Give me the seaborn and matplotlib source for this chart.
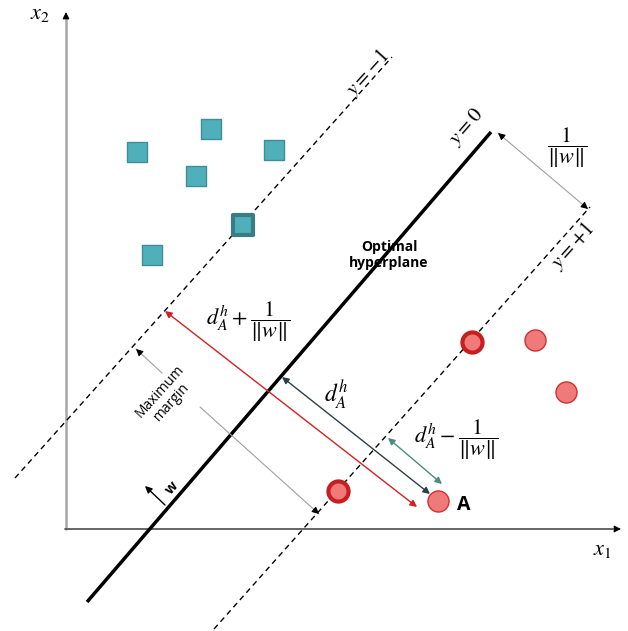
import numpy as np
import seaborn as sns
import pandas as pd
import matplotlib
matplotlib.use('Agg')
import matplotlib.pyplot as plt

# Class -1 (squares), pixel-space coordinates of the sketch
sq_x = [137, 211, 274, 196, 243, 152]
sq_y = [152, 129, 150, 176, 225, 255]
sq_support = [False, False, False, False, True, False]

# Class +1 (circles)
ci_x = [472, 535, 566, 338, 438]
ci_y = [342, 340, 392, 491, 501]
ci_support = [True, False, False, True, False]

# Decision lines (x0, y0, x1, y1)
hyperplane = [87, 602, 491, 132]
margin_neg = [15, 478, 392, 57]
margin_pos = [214, 629, 590, 207]

# Axes origin and ends
origin = (66, 529)
x_end = 621
y_end = 10

sns.set_style("white")
plt.rcParams['mathtext.fontset'] = 'stix'
plt.rcParams['font.family'] = ['Open Sans', 'DejaVu Sans']
plt.rcParams['text.color'] = 'black'

fig = plt.figure(figsize=(6.28, 6.31), dpi=100)
ax = fig.add_axes([0, 0, 1, 1])
ax.set_xlim(0, 628)
ax.set_ylim(631, 0)
ax.axis('off')


def head(p0, p1, color='black'):
    # black arrow head at p1, coming from direction of p0
    v = np.array(p1, float) - np.array(p0, float)
    v = v / np.hypot(*v)
    start = np.array(p1, float) - 6 * v
    ax.annotate('', xy=p1, xytext=tuple(start),
                arrowprops=dict(arrowstyle='-|>', color=color, lw=0.8,
                                mutation_scale=10, shrinkA=0, shrinkB=0))


def arrow(p0, p1, color, both=True, lw=1):
    ax.annotate('', xy=p1, xytext=p0,
                arrowprops=dict(arrowstyle='<|-|>' if both else '-|>', color=color, lw=lw,
                                mutation_scale=10, shrinkA=0, shrinkB=0))


def gray_arrow(p0, p1, both=True):
    ax.plot([p0[0], p1[0]], [p0[1], p1[1]], color='#a0a0a0', lw=0.8)
    head(p0, p1)
    if both:
        head(p1, p0)


# Axes arrows
ax.plot([origin[0], origin[0]], [origin[1], y_end + 8], color='#a6a6a6', lw=1.8)
head((origin[0], origin[1]), (origin[0], y_end + 2))
ax.plot([origin[0] - 1, x_end - 8], [origin[1], origin[1]], color='#595959', lw=1.3)
head((origin[0], origin[1]), (x_end, origin[1]))
ax.text(40, 14, r'$x_2$', fontsize=16, ha='center', va='center')
ax.text(602, 550, r'$x_1$', fontsize=16, ha='center', va='center')

# Lines
ax.plot(hyperplane[::2], hyperplane[1::2], color='black', lw=2.5, solid_capstyle='butt')
ax.plot(margin_neg[::2], margin_neg[1::2], color='black', lw=1, ls=(0, (4, 3)))
ax.plot(margin_pos[::2], margin_pos[1::2], color='black', lw=1, ls=(0, (4, 3)))

# Points
sq = pd.DataFrame({'x': sq_x, 'y': sq_y, 'sv': sq_support})
ci = pd.DataFrame({'x': ci_x, 'y': ci_y, 'sv': ci_support})
sns.scatterplot(data=sq[~sq.sv], x='x', y='y', marker='s', s=220,
                color='#4fb0bb', edgecolor='#3f8e96', linewidth=1, ax=ax, zorder=5)
sns.scatterplot(data=sq[sq.sv], x='x', y='y', marker='s', s=200,
                color='#4fb0bb', edgecolor='#3a7c83', linewidth=3, ax=ax, zorder=5)
sns.scatterplot(data=ci[~ci.sv], x='x', y='y', marker='o', s=230,
                color='#f07a7a', edgecolor='#d03030', linewidth=1, ax=ax, zorder=5)
sns.scatterplot(data=ci[ci.sv], x='x', y='y', marker='o', s=210,
                color='#f07a7a', edgecolor='#c81e1e', linewidth=3, ax=ax, zorder=5)
ax.set_xlabel('')
ax.set_ylabel('')

# Distance arrows
arrow((165, 311), (417, 507), '#d42020')
arrow((282, 377), (430, 494), '#2e3e48')
arrow((388, 438), (442, 484), '#4f8a80')
gray_arrow((498, 133), (588, 209))
gray_arrow((162, 373), (136, 349), both=False)
gray_arrow((200, 407), (319, 514), both=False)
arrow((165, 505), (145, 486), 'black', both=False)

# Labels
ax.text(368, 73, r'$y=-1$', fontsize=15, rotation=48, ha='center', va='center')
ax.text(466, 127, r'$y=0$', fontsize=15, rotation=49, ha='center', va='center')
ax.text(573, 246, r'$y=+1$', fontsize=15, rotation=48, ha='center', va='center')
ax.text(567, 148, r'$\dfrac{1}{\Vert w\Vert}$', fontsize=16, ha='center', va='center')
ax.text(389, 255, 'Optimal\nhyperplane', fontsize=10, fontweight='bold',
        ha='center', va='center', linespacing=1.1)
ax.text(248, 322, r'$d_A^h+\dfrac{1}{\Vert w\Vert}$', fontsize=16, ha='center', va='center')
ax.text(336, 395, r'$d_A^h$', fontsize=17, ha='center', va='center')
ax.text(456, 440, r'$d_A^h-\dfrac{1}{\Vert w\Vert}$', fontsize=16, ha='center', va='center')
ax.text(166, 397, 'Maximum\nmargin', fontsize=10, rotation=48,
        ha='center', va='center', linespacing=1.1)
ax.text(172, 488, 'w', fontsize=10, fontweight='bold', rotation=48,
        ha='center', va='center')
ax.text(464, 505, 'A', fontsize=14, fontweight='bold', ha='center', va='center')

fig.savefig('out.png', dpi=100)
